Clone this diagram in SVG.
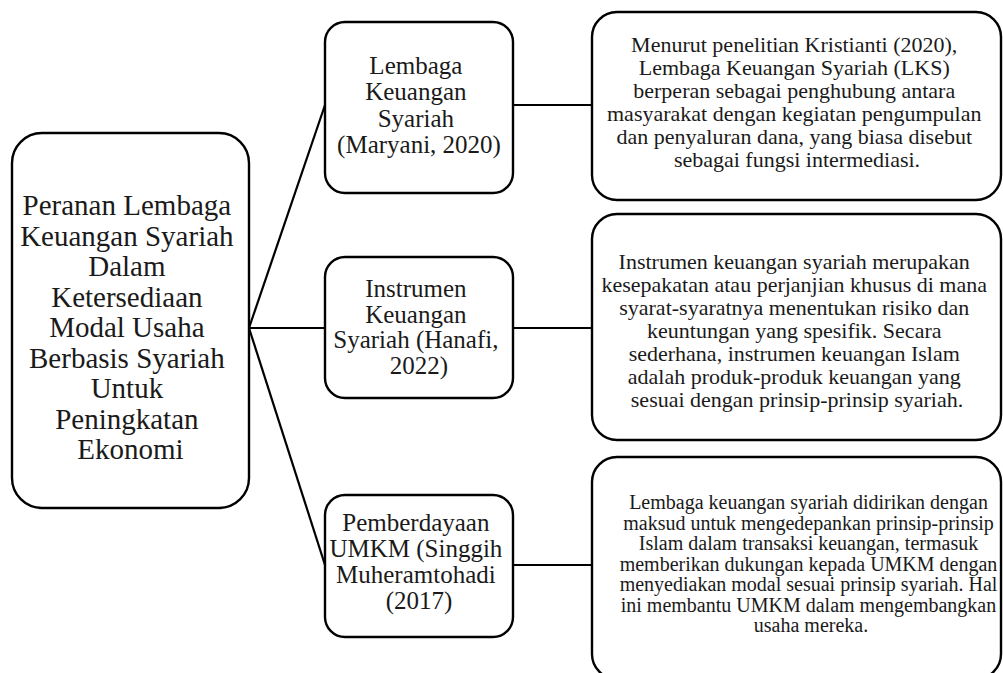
<svg xmlns="http://www.w3.org/2000/svg" width="1003" height="673" viewBox="0 0 1003 673">
<style>
.box{fill:#fff;stroke:#000;stroke-width:2.4}
.t{font-family:"Liberation Serif","Times New Roman",serif;fill:#1a1a1a;text-anchor:middle}
.big{font-size:29px}
.mid{font-size:25px}
.sm{font-size:22px}
.xs{font-size:20px}
.c{stroke:#000;stroke-width:2.2;fill:none}
</style>
<rect width="1003" height="673" fill="#fff"/>
<g id="connectors">
<line class="c" x1="249" y1="328" x2="325" y2="105"/>
<line class="c" x1="249" y1="328" x2="325" y2="328"/>
<line class="c" x1="249" y1="328" x2="325" y2="565"/>
<line class="c" x1="513" y1="105" x2="592" y2="105"/>
<line class="c" x1="513" y1="328" x2="592" y2="328"/>
<line class="c" x1="513" y1="565" x2="592" y2="565"/>
</g>
<g id="root">
<rect class="box" x="12" y="133" width="237" height="375" rx="30"/>
<text class="t big">
<tspan x="130.5" y="215">Peranan Lembaga</tspan>
<tspan x="130.5" y="245.5">Keuangan Syariah</tspan>
<tspan x="130.5" y="276">Dalam</tspan>
<tspan x="130.5" y="306.5">Ketersediaan</tspan>
<tspan x="130.5" y="337">Modal Usaha</tspan>
<tspan x="130.5" y="367.5">Berbasis Syariah</tspan>
<tspan x="130.5" y="398">Untuk</tspan>
<tspan x="130.5" y="428.5">Peningkatan</tspan>
<tspan x="130.5" y="459">Ekonomi</tspan>
</text>
</g>
<g id="n1">
<rect class="box" x="325" y="22" width="188" height="171" rx="20"/>
<text class="t mid">
<tspan x="419" y="74">Lembaga</tspan>
<tspan x="419" y="100">Keuangan</tspan>
<tspan x="419" y="127">Syariah</tspan>
<tspan x="419" y="153">(Maryani, 2020)</tspan>
</text>
</g>
<g id="n2">
<rect class="box" x="325" y="257" width="188" height="141" rx="20"/>
<text class="t mid">
<tspan x="419" y="297">Instrumen</tspan>
<tspan x="419" y="323">Keuangan</tspan>
<tspan x="419" y="348">Syariah (Hanafi,</tspan>
<tspan x="419" y="374">2022)</tspan>
</text>
</g>
<g id="n3">
<rect class="box" x="325" y="495" width="188" height="142" rx="20"/>
<text class="t mid">
<tspan x="419" y="531">Pemberdayaan</tspan>
<tspan x="419" y="557">UMKM (Singgih</tspan>
<tspan x="419" y="583">Muheramtohadi</tspan>
<tspan x="419" y="609">(2017)</tspan>
</text>
</g>
<g id="d1">
<rect class="box" x="592" y="12" width="409" height="188" rx="25"/>
<text class="t sm">
<tspan x="797" y="52">Menurut penelitian Kristianti (2020),</tspan>
<tspan x="797" y="75">Lembaga Keuangan Syariah (LKS)</tspan>
<tspan x="797" y="98">berperan sebagai penghubung antara</tspan>
<tspan x="797" y="121">masyarakat dengan kegiatan pengumpulan</tspan>
<tspan x="797" y="144">dan penyaluran dana, yang biasa disebut</tspan>
<tspan x="797" y="167">sebagai fungsi intermediasi.</tspan>
</text>
</g>
<g id="d2">
<rect class="box" x="592" y="214" width="409" height="226" rx="25"/>
<text class="t sm">
<tspan x="797" y="269">Instrumen keuangan syariah merupakan</tspan>
<tspan x="797" y="292">kesepakatan atau perjanjian khusus di mana</tspan>
<tspan x="797" y="315">syarat-syaratnya menentukan risiko dan</tspan>
<tspan x="797" y="338">keuntungan yang spesifik. Secara</tspan>
<tspan x="797" y="361">sederhana, instrumen keuangan Islam</tspan>
<tspan x="797" y="384">adalah produk-produk keuangan yang</tspan>
<tspan x="797" y="407">sesuai dengan prinsip-prinsip syariah.</tspan>
</text>
</g>
<g id="d3">
<rect class="box" x="592" y="457" width="409" height="222" rx="25"/>
<text class="t xs">
<tspan x="811" y="509">Lembaga keuangan syariah didirikan dengan</tspan>
<tspan x="811" y="529.5">maksud untuk mengedepankan prinsip-prinsip</tspan>
<tspan x="811" y="550">Islam dalam transaksi keuangan, termasuk</tspan>
<tspan x="811" y="570.5">memberikan dukungan kepada UMKM dengan</tspan>
<tspan x="811" y="591">menyediakan modal sesuai prinsip syariah. Hal</tspan>
<tspan x="811" y="611.5">ini membantu UMKM dalam mengembangkan</tspan>
<tspan x="811" y="632">usaha mereka.</tspan>
</text>
</g>
</svg>
